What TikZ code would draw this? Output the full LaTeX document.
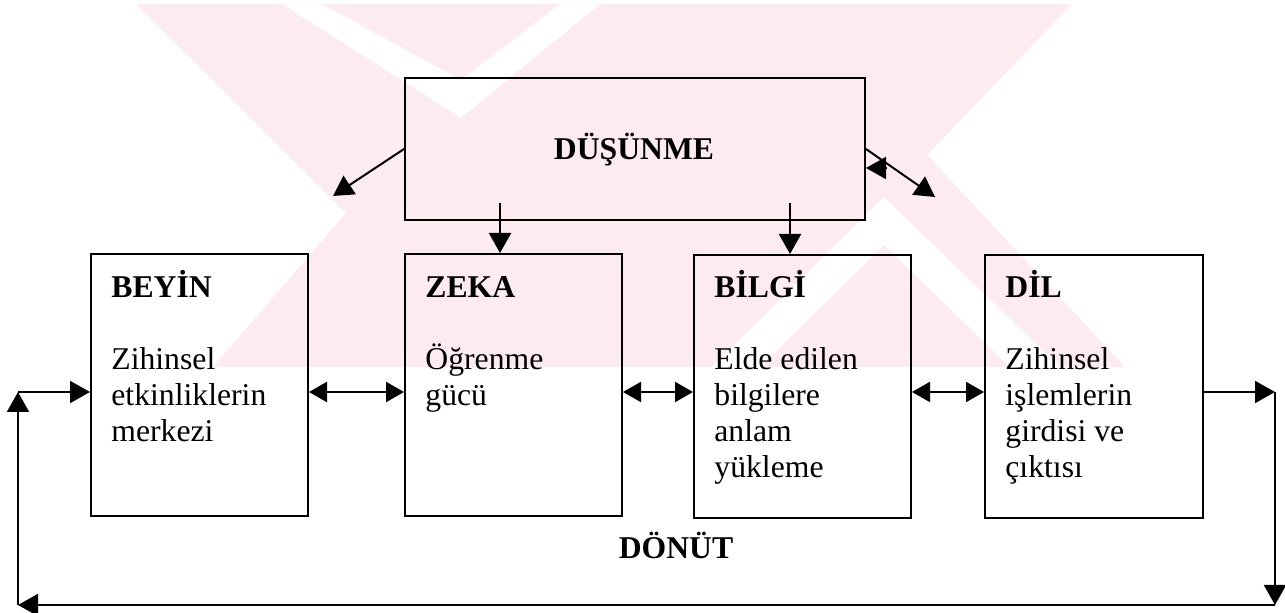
\documentclass[tikz,border=0pt]{standalone}
\usepackage{fontspec}
\setmainfont{Liberation Serif}
\usetikzlibrary{arrows.meta,calc}
\definecolor{wmpink}{RGB}{253,236,239}
\begin{document}
\begin{tikzpicture}[x=0.5pt,y=-0.5pt,
  box/.style={draw, line width=1pt, rectangle, inner sep=0pt, anchor=north west},
  lbl/.style={anchor=base west, inner sep=0pt, font=\fontsize{15.85}{18}\selectfont},
  ttl/.style={anchor=base west, inner sep=0pt, font=\fontsize{15.85}{18}\selectfont\bfseries},
  arr/.style={line width=1pt, -{Triangle[length=10pt,width=11pt]}},
  darr/.style={line width=1pt, {Triangle[length=9pt,width=10pt]}-{Triangle[length=9pt,width=10pt]}},
]
\useasboundingbox (0,0) rectangle (1285,613);

% background emblem
\fill[wmpink] (136,4) -- (1072,4) -- (927,155) -- (1125,367) -- (213,367) -- (346,213) -- cycle;
\fill[white] (282,4) -- (322,4) -- (461,80) -- (560,4) -- (600,4) -- (461,118) -- cycle;
\fill[white] (884,197) -- (1060,367) -- (1010,367) -- (884,245) -- (760,367) -- (712,367) -- cycle;

% boxes
\node[box, minimum width=460*0.5pt, minimum height=142*0.5pt] (du) at (404,77) {};
\node[box, minimum width=217*0.5pt, minimum height=262*0.5pt] (beyin) at (90,253) {};
\node[box, minimum width=217*0.5pt, minimum height=262*0.5pt] (zeka) at (404,253) {};
\node[box, minimum width=217*0.5pt, minimum height=263*0.5pt] (bilgi) at (693,254) {};
\node[box, minimum width=218*0.5pt, minimum height=263*0.5pt] (dil) at (984,254) {};

% texts
\node[ttl, anchor=base] (duT) at (634,160) {DÜŞÜNME};
\node[ttl] (beyinT) at (111,298) {BEYİN};
\node[ttl] (zekaT) at (425,298) {ZEKA};
\node[ttl] (bilgiT) at (714,298) {BİLGİ};
\node[ttl] (dilT) at (1005,298) {DİL};
\foreach \t [count=\i] in {Zihinsel, etkinliklerin, merkezi}
  \node[lbl] (beyin-\i) at (111,{370+36*(\i-1)}) {\t};
\foreach \t [count=\i] in {Öğrenme, gücü}
  \node[lbl] (zeka-\i) at (425,{370+36*(\i-1)}) {\t};
\foreach \t [count=\i] in {Elde edilen, bilgilere, anlam, yükleme}
  \node[lbl] (bilgi-\i) at (714,{370+36*(\i-1)}) {\t};
\foreach \t [count=\i] in {Zihinsel, işlemlerin, girdisi ve, çıktısı}
  \node[lbl] (dil-\i) at (1005,{370+36*(\i-1)}) {\t};
\node[ttl, anchor=base] (donut) at (676,559) {DÖNÜT};

% arrows out of DÜŞÜNME
\coordinate (ltip) at (333,196);
\coordinate (rtip) at (935,197);
\draw[arr] (du.west) -- (ltip);
\draw[arr] (du.east) -- (rtip);
\draw[arr] ($(du.east)+(21,19)$) -- ($(du.east)+(0,19)$);
\coordinate (dz) at (500,203);
\coordinate (db) at (790,203);
\draw[arr] (dz) -- (dz |- zeka.north);
\draw[arr] (db) -- (db |- bilgi.north);

% links along the row
\coordinate (row) at (0,392);
\draw[darr] (beyin.east |- row) -- (zeka.west |- row);
\draw[darr] (zeka.east |- row) -- (bilgi.west |- row);
\draw[darr] (bilgi.east |- row) -- (dil.west |- row);

% feedback loop
\coordinate (rt) at (1275,392);
\coordinate (rb) at (1275,605);
\coordinate (lb) at (18,605);
\coordinate (lt) at (18,392);
\draw[arr] (dil.east |- rt) -- (rt);
\draw[arr] (rt) -- (rb);
\draw[arr] (rb) -- (lb);
\draw[arr] (lb) -- (lt);
\draw[arr] (lt) -- (beyin.west |- lt);
\end{tikzpicture}
\end{document}
